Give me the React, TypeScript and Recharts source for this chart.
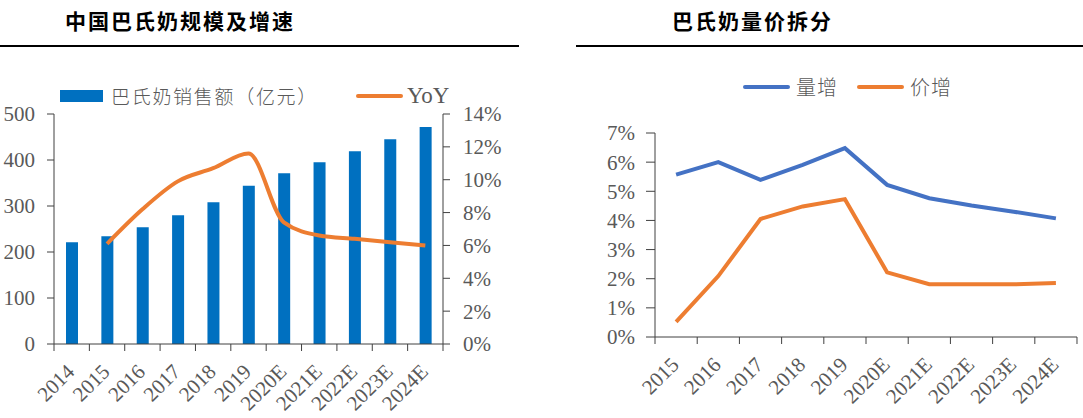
import { ComposedChart, Bar, Line, XAxis, YAxis, Legend } from 'recharts'

const years = ['2014', '2015', '2016', '2017', '2018', '2019', '2020E', '2021E', '2022E', '2023E', '2024E']
const salesValues = [221, 234, 254, 280, 308, 344, 371, 395, 419, 445, 472]
const yoyValues = [null, 6.1, 8.2, 9.9, 10.7, 11.6, 7.4, 6.6, 6.4, 6.2, 6.0]
const salesTicks = [0, 100, 200, 300, 400, 500]
const yoyTicks = [0, 2, 4, 6, 8, 10, 12, 14]
const leftNames = ['巴氏奶销售额（亿元）', 'YoY']

const splitYears = ['2015', '2016', '2017', '2018', '2019', '2020E', '2021E', '2022E', '2023E', '2024E']
const volumeGrowth = [5.57, 6.0, 5.39, 5.91, 6.48, 5.22, 4.76, 4.51, 4.3, 4.07]
const priceGrowth = [0.52, 2.09, 4.05, 4.48, 4.73, 2.22, 1.81, 1.81, 1.81, 1.85]
const splitTicks = [0, 1, 2, 3, 4, 5, 6, 7]
const rightNames = ['量增', '价增']

const leftData = years.map((year, i) => ({ year, sales: salesValues[i], yoy: yoyValues[i] }))
const rightData = splitYears.map((year, i) => ({ year, volume: volumeGrowth[i], price: priceGrowth[i] }))

const AXIS = '#404040'
const LABEL = '#595959'
const SERIF = '"Liberation Serif", "Times New Roman", serif'
const CJK = '"Noto Sans CJK SC", sans-serif'

// category axis: marks sit between the bands, labels slanted
function makeSlantTick(band: number, count: number) {
  return function SlantTick(props: any) {
    const { x, y, payload, index } = props
    return (
      <g>
        <line x1={x - band / 2} x2={x - band / 2} y1={y} y2={y + 7} stroke={AXIS} />
        {index === count - 1 && <line x1={x + band / 2} x2={x + band / 2} y1={y} y2={y + 7} stroke={AXIS} />}
        <text
          x={x + 4}
          y={y + 29}
          transform={`rotate(-45, ${x + 4}, ${y + 29})`}
          textAnchor="end"
          fill={LABEL}
          fontFamily={SERIF}
          fontSize={21}
        >
          {payload.value}
        </text>
      </g>
    )
  }
}

const byOrder = (order: string[]) => (a: any, b: any) => order.indexOf(a.value) - order.indexOf(b.value)

function renderLegend(props: any) {
  const items = [...(props.payload || [])].sort(byOrder(leftNames))
  return (
    <div style={{ display: 'flex', alignItems: 'center', whiteSpace: 'nowrap' }}>
      {items.map((entry: any, i: number) => (
        <div key={i} style={{ display: 'flex', alignItems: 'center', marginRight: i === 0 ? 38 : 0 }}>
          {entry.type === 'rect' ? (
            <span style={{ width: 43, height: 12, background: entry.color, display: 'inline-block' }} />
          ) : (
            <span style={{ width: 47, height: 4, borderRadius: 2, background: entry.color, display: 'inline-block' }} />
          )}
          <span
            style={{
              marginLeft: entry.value === 'YoY' ? 4 : 8,
              color: LABEL,
              fontSize: entry.value === 'YoY' ? 23 : 19,
              fontFamily: entry.value === 'YoY' ? SERIF : CJK,
              fontWeight: 300,
              letterSpacing: entry.value === 'YoY' ? 0 : 1.7,
            }}
          >
            {entry.value}
          </span>
        </div>
      ))}
    </div>
  )
}

function renderSplitLegend(props: any) {
  const items = [...(props.payload || [])].sort(byOrder(rightNames))
  return (
    <div style={{ display: 'flex', alignItems: 'center', whiteSpace: 'nowrap' }}>
      {items.map((entry: any, i: number) => (
        <div key={i} style={{ display: 'flex', alignItems: 'center', marginRight: i === 0 ? 19 : 0 }}>
          <span style={{ width: 47, height: 4, borderRadius: 2, background: entry.color, display: 'inline-block' }} />
          <span style={{ marginLeft: 6, color: LABEL, fontSize: 20, fontFamily: CJK, fontWeight: 300, letterSpacing: 1 }}>
            {entry.value}
          </span>
        </div>
      ))}
    </div>
  )
}

const titleStyle: React.CSSProperties = {
  position: 'absolute',
  top: 6,
  fontFamily: CJK,
  fontWeight: 700,
  fontSize: 21,
  letterSpacing: 2,
  color: '#000',
  lineHeight: '28px',
}

export default function App() {
  const leftBand = 389 / years.length
  const rightBand = 421.7 / splitYears.length
  return (
    <div style={{ position: 'absolute', left: 0, top: 0, width: 1083, height: 418, background: '#fff' }}>
      <div style={{ ...titleStyle, left: 65 }}>中国巴氏奶规模及增速</div>
      <div style={{ position: 'absolute', left: 0, top: 45, width: 519, height: 2, background: '#000' }} />
      <div style={{ ...titleStyle, left: 672 }}>巴氏奶量价拆分</div>
      <div style={{ position: 'absolute', left: 576, top: 45, width: 507, height: 2, background: '#000' }} />

      <div style={{ position: 'absolute', left: 0, top: 0 }}>
        <ComposedChart width={540} height={418} data={leftData} margin={{ top: 114, right: 37, bottom: 14, left: 0 }}>
          <XAxis
            dataKey="year"
            scale="band"
            stroke={AXIS}
            tickLine={false}
            tickSize={0}
            tickMargin={0}
            height={60}
            interval={0}
            tick={makeSlantTick(leftBand, years.length)}
          />
          <YAxis
            yAxisId="left"
            domain={[0, 500]}
            ticks={salesTicks}
            interval={0}
            width={54}
            stroke={AXIS}
            tickSize={7}
            tickMargin={12}
            tick={{ fill: LABEL, fontFamily: SERIF, fontSize: 21 }}
          />
          <YAxis
            yAxisId="right"
            orientation="right"
            domain={[0, 14]}
            ticks={yoyTicks}
            interval={0}
            width={60}
            stroke={AXIS}
            tickSize={7}
            tickMargin={13}
            tickFormatter={(v: number) => `${v}%`}
            tick={{ fill: LABEL, fontFamily: SERIF, fontSize: 21 }}
          />
          <Legend
            verticalAlign="middle"
            align="center"
            content={renderLegend}
            wrapperStyle={{ left: 60, top: 82, width: 470, height: 28 }}
          />
          <Bar yAxisId="left" dataKey="sales" name="巴氏奶销售额（亿元）" fill="#0070C0" barSize={12} isAnimationActive={false} />
          <Line
            yAxisId="right"
            dataKey="yoy"
            name="YoY"
            type="monotone"
            stroke="#ED7D31"
            strokeWidth={4}
            dot={false}
            connectNulls={false}
            isAnimationActive={false}
          />
        </ComposedChart>
      </div>

      <div style={{ position: 'absolute', left: 560, top: 0 }}>
        <ComposedChart width={523} height={418} data={rightData} margin={{ top: 133, right: 6, bottom: 21, left: 0 }}>
          <XAxis
            dataKey="year"
            scale="band"
            stroke={AXIS}
            tickLine={false}
            tickSize={0}
            tickMargin={0}
            height={60}
            interval={0}
            tick={makeSlantTick(rightBand, splitYears.length)}
          />
          <YAxis
            domain={[0, 7]}
            ticks={splitTicks}
            interval={0}
            width={95}
            stroke={AXIS}
            tickSize={9}
            tickMargin={11}
            tickFormatter={(v: number) => `${v}%`}
            tick={{ fill: LABEL, fontFamily: SERIF, fontSize: 21 }}
          />
          <Legend
            verticalAlign="middle"
            align="center"
            content={renderSplitLegend}
            wrapperStyle={{ left: 183, top: 72, width: 300, height: 28 }}
          />
          <Line dataKey="volume" name="量增" type="linear" stroke="#4472C4" strokeWidth={4} dot={false} isAnimationActive={false} />
          <Line dataKey="price" name="价增" type="linear" stroke="#ED7D31" strokeWidth={4} dot={false} isAnimationActive={false} />
        </ComposedChart>
      </div>
    </div>
  )
}
